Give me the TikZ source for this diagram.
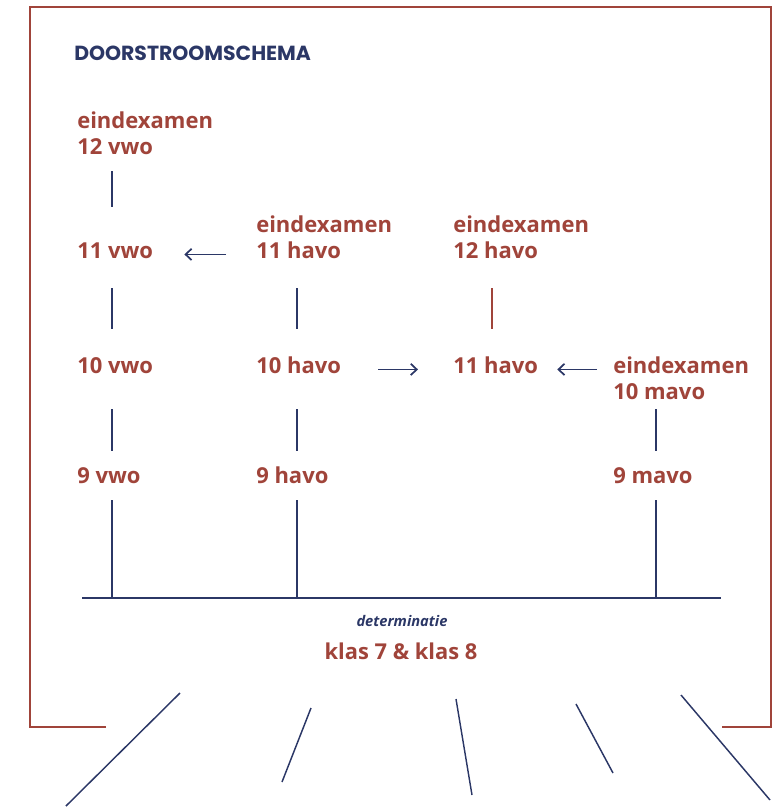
\documentclass[tikz,border=0pt]{standalone}
\usepackage{fontspec}
\setmainfont{Open Sans}
\newfontfamily\titlefont{Poppins}
\usetikzlibrary{arrows.meta}
\definecolor{brick}{RGB}{160,68,58}
\definecolor{inkblue}{RGB}{43,55,102}

\begin{document}
\begin{tikzpicture}[x=0.75pt, y=-0.75pt,
    year/.style={font=\fontsize{16.5}{19.5}\selectfont\bfseries, text=brick,
      anchor=base west, inner sep=0pt, align=left},
    tak/.style={inkblue, line width=1.1pt},
    pijl/.style={inkblue, line width=1.3pt, -{Straight Barb[length=4.5pt, width=8.5pt]}},
    rand/.style={brick, line width=1.2pt}]

        \useasboundingbox (0,0) rectangle (774,807);

        % frame
        \draw[rand] (106,727) -- (30,727) -- (30,7) -- (771,7) -- (771,727) -- (722,727);

        \node[anchor=base west, inner sep=0pt, text=inkblue,
          font=\titlefont\fontsize{15.3}{17}\selectfont\bfseries] (titel) at (74,60) {DOORSTROOMSCHEMA};

        % vwo
        \node[year] (e12vwo) at (77,154) {eindexamen\\12 vwo};
        \node[year] (v11) at (77,258) {11 vwo};
        \node[year] (v10) at (77,373) {10 vwo};
        \node[year] (v9) at (77,483) {9 vwo};

        % havo
        \node[year] (e11havo) at (256,258) {eindexamen\\11 havo};
        \node[year] (h10) at (256,373) {10 havo};
        \node[year] (h9) at (256,483) {9 havo};
        \node[year] (e12havo) at (453,258) {eindexamen\\12 havo};
        \node[year] (h11) at (453,373) {11 havo};

        % mavo
        \node[year] (e10mavo) at (613,399) {eindexamen\\10 mavo};
        \node[year] (m9) at (613,483) {9 mavo};

        \node[text=inkblue, inner sep=0pt, anchor=base,
          font=\fontsize{11}{13}\selectfont\itshape\bfseries] (det) at (402,626) {determinatie};
        \node[text=brick, inner sep=0pt, anchor=base,
          font=\fontsize{16.4}{20}\selectfont\bfseries] (klas) at (401,659) {klas 7 \& klas 8};

        \coordinate (cvwo) at (112,0);
        \coordinate (chavo) at (297,0);
        \coordinate (chavob) at (492,0);
        \coordinate (cmavo) at (656,0);
        \coordinate (bl) at (82,598);
        \coordinate (br) at (721,598);

        \draw[tak] (bl) -- (br);

        \draw[tak] (e12vwo.south -| cvwo) ++(0,17) -- ++(0,36);
        \draw[tak] (v11.south -| cvwo) ++(0,30) -- ++(0,41);
        \draw[tak] (v10.south -| cvwo) ++(0,36) -- ++(0,42);
        \draw[tak] (v9.south -| cvwo) ++(0,17) -- (bl -| cvwo);

        \draw[tak] (e11havo.south -| chavo) ++(0,30) -- ++(0,41);
        \draw[tak] (h10.south -| chavo) ++(0,36) -- ++(0,42);
        \draw[tak] (h9.south -| chavo) ++(0,17) -- (bl -| chavo);
        \draw[tak, brick] (e12havo.south -| chavob) ++(0,30) -- ++(0,41);

        \draw[tak] (e10mavo.south -| cmavo) ++(0,10) -- ++(0,42);
        \draw[tak] (m9.south -| cmavo) ++(0,17) -- (bl -| cmavo);

        \draw[pijl, shorten <=22.5pt, shorten >=23.25pt] (e11havo.west |- v11.mid) -- (v11.mid east);
        \draw[pijl, shorten <=27.75pt, shorten >=26.25pt] (h10.mid east) -- (h11.mid west);
        \draw[pijl, shorten <=12pt, shorten >=14.25pt] (e10mavo.west |- h11.mid) -- (h11.mid east);

        % rays
        \draw[tak] (180,693) -- (66,806);
        \draw[tak] (311,708) -- (282,782);
        \draw[tak] (456,699) -- (472,795);
        \draw[tak] (576,704) -- (613,773);
        \draw[tak] (681,695) -- (770,800);
        \end{tikzpicture}
\end{document}
